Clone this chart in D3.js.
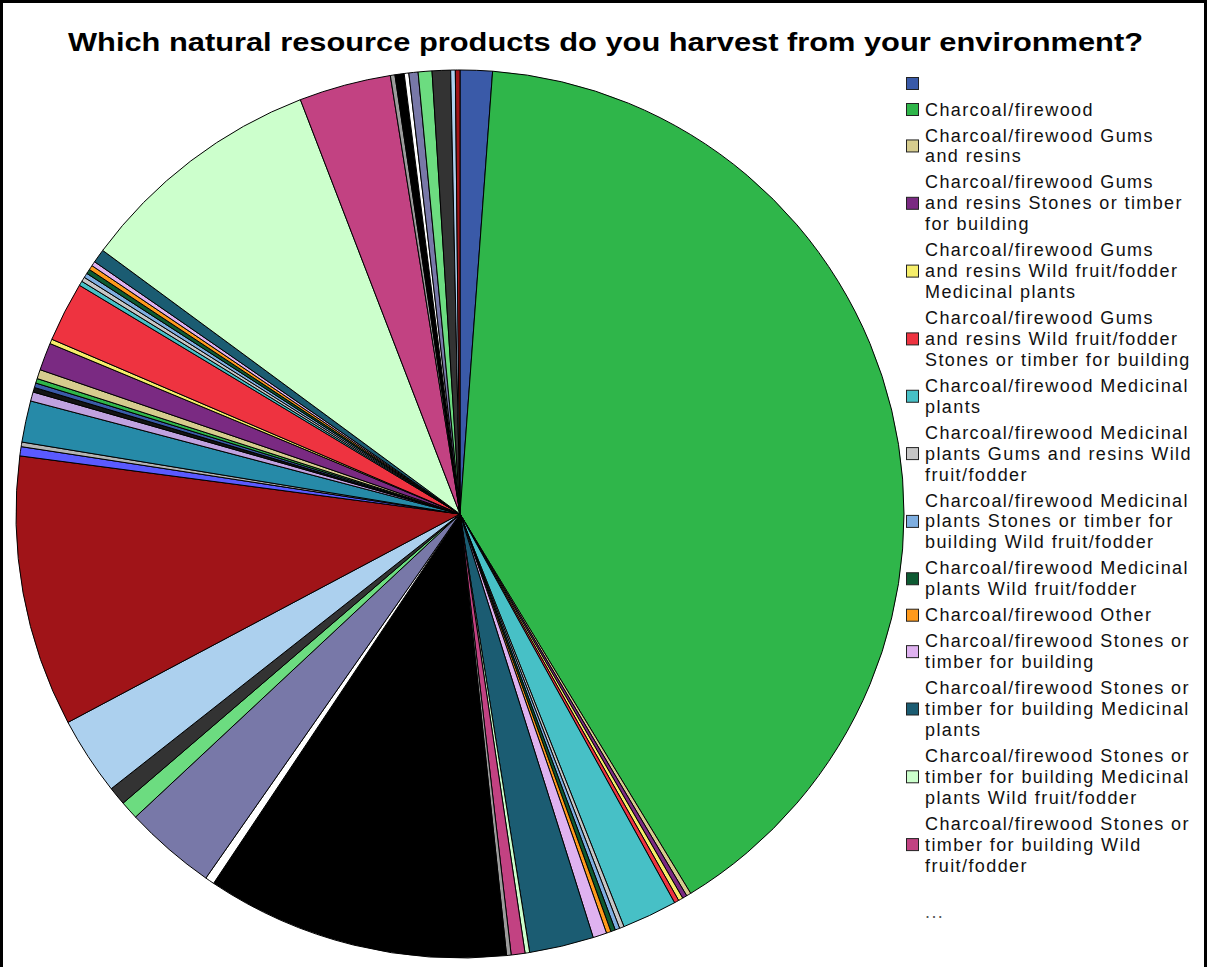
<!DOCTYPE html>
<html>
<head>
<meta charset="utf-8">
<script src="https://cdn.jsdelivr.net/npm/d3@7/dist/d3.min.js"></script>
<style>
  html, body { margin: 0; padding: 0; background: #fff; }
  svg { display: block; }
</style>
</head>
<body>
<svg id="chart" width="1209" height="967"></svg>
<script>
// Survey answers: combinations of harvested products and number of respondents
const categories = [
  "",
  "Charcoal/firewood",
  "Charcoal/firewood Gums and resins",
  "Charcoal/firewood Gums and resins Stones or timber for building",
  "Charcoal/firewood Gums and resins Wild fruit/fodder Medicinal plants",
  "Charcoal/firewood Gums and resins Wild fruit/fodder Stones or timber for building",
  "Charcoal/firewood Medicinal plants",
  "Charcoal/firewood Medicinal plants Gums and resins Wild fruit/fodder",
  "Charcoal/firewood Medicinal plants Stones or timber for building Wild fruit/fodder",
  "Charcoal/firewood Medicinal plants Wild fruit/fodder",
  "Charcoal/firewood Other",
  "Charcoal/firewood Stones or timber for building",
  "Charcoal/firewood Stones or timber for building Medicinal plants",
  "Charcoal/firewood Stones or timber for building Medicinal plants Wild fruit/fodder",
  "Charcoal/firewood Stones or timber for building Wild fruit/fodder",
  "Charcoal/firewood Wild fruit/fodder",
  "Charcoal/firewood Wild fruit/fodder Medicinal plants",
  "Charcoal/firewood Wild fruit/fodder Other",
  "Charcoal/firewood Wild fruit/fodder Stones or timber for building",
  "Gums and resins",
  "Gums and resins Medicinal plants",
  "Gums and resins Stones or timber for building",
  "Gums and resins Wild fruit/fodder",
  "Medicinal plants",
  "Medicinal plants Gums and resins",
  "Medicinal plants Other",
  "Medicinal plants Stones or timber for building",
  "Medicinal plants Stones or timber for building Wild fruit/fodder",
  "Medicinal plants Wild fruit/fodder",
  "Other",
  "Other Medicinal plants",
  "Stones or timber for building",
  "Stones or timber for building Gums and resins",
  "Stones or timber for building Medicinal plants",
  "Stones or timber for building Medicinal plants Wild fruit/fodder",
  "Stones or timber for building Other",
  "Stones or timber for building Wild fruit/fodder",
  "Stones or timber for building Wild fruit/fodder Gums and resins",
  "Stones or timber for building Wild fruit/fodder Medicinal plants",
  "Wild fruit/fodder",
  "Wild fruit/fodder Charcoal/firewood",
  "Wild fruit/fodder Gums and resins",
  "Wild fruit/fodder Medicinal plants",
  "Wild fruit/fodder Medicinal plants Gums and resins",
  "Wild fruit/fodder Medicinal plants Other",
  "Wild fruit/fodder Medicinal plants Stones or timber for building",
  "Wild fruit/fodder Other",
  "Wild fruit/fodder Stones or timber for building",
  "Wild fruit/fodder Stones or timber for building Gums and resins",
  "Wild fruit/fodder Stones or timber for building Medicinal plants",
  "Wild fruit/fodder Stones or timber for building Other",
  "Wild fruit/fodder Stones or timber for building Medicinal plants Gums and resins"
];

const counts = [
  7, 240, 1, 1, 1, 1, 12, 1, 1, 1,
  1, 3, 14, 1, 3, 1, 66, 2, 20, 4,
  4, 17, 59, 2, 1, 9, 2, 1, 1, 1,
  2, 6, 1, 13, 1, 1, 1, 1, 1, 1,
  3, 54, 20, 1, 2, 1, 2, 3, 4, 1,
  1
];

// Legend text for the first entries, broken into lines as laid out
const legendLines = [
  [""],
  ["Charcoal/firewood"],
  ["Charcoal/firewood Gums", "and resins"],
  ["Charcoal/firewood Gums", "and resins Stones or timber", "for building"],
  ["Charcoal/firewood Gums", "and resins Wild fruit/fodder", "Medicinal plants"],
  ["Charcoal/firewood Gums", "and resins Wild fruit/fodder", "Stones or timber for building"],
  ["Charcoal/firewood Medicinal", "plants"],
  ["Charcoal/firewood Medicinal", "plants Gums and resins Wild", "fruit/fodder"],
  ["Charcoal/firewood Medicinal", "plants Stones or timber for", "building Wild fruit/fodder"],
  ["Charcoal/firewood Medicinal", "plants Wild fruit/fodder"],
  ["Charcoal/firewood Other"],
  ["Charcoal/firewood Stones or", "timber for building"],
  ["Charcoal/firewood Stones or", "timber for building Medicinal", "plants"],
  ["Charcoal/firewood Stones or", "timber for building Medicinal", "plants Wild fruit/fodder"],
  ["Charcoal/firewood Stones or", "timber for building Wild", "fruit/fodder"]
];

// Series colour cycle
const palette = [
  "#3a5aa8", "#2fb64a", "#d6cc8e", "#7a2a82", "#f6ee6a", "#ee3340", "#47c0c6",
  "#c6c6c6", "#7eaee0", "#0d5a32", "#ff9a1c", "#dfb2f0", "#1b5c72", "#ccffcc",
  "#c24282", "#9c9c9c", "#000000", "#ffffff", "#7878a8", "#6cdc80", "#333333",
  "#acd0ee", "#a01418", "#5a5aff", "#b4b4b4", "#268aa8", "#c0a2e0", "#141414"
];

const title = "Which natural resource products do you harvest from your environment?";

const svg = d3.select("#chart");
const W = 1209, H = 967;

// frame
svg.append("rect")
  .attr("x", 1.5).attr("y", 1.5)
  .attr("width", W - 5).attr("height", H + 10)
  .attr("fill", "#fff")
  .attr("stroke", "#000")
  .attr("stroke-width", 3);

// title
svg.append("text")
  .attr("x", 68).attr("y", 51)
  .attr("textLength", 1075)
  .attr("lengthAdjust", "spacingAndGlyphs")
  .style("font-family", "'Liberation Sans', Arial, sans-serif")
  .style("font-weight", "bold")
  .style("font-size", "25px")
  .attr("fill", "#000")
  .text(title);

// pie
const cx = 460, cy = 514, radius = 444;
const color = d3.scaleOrdinal().domain(d3.range(categories.length)).range(palette);
const pie = d3.pie().sort(null).value(d => d)
  .startAngle(0).endAngle(2 * Math.PI);
const arc = d3.arc().innerRadius(0).outerRadius(radius);

const g = svg.append("g").attr("transform", `translate(${cx},${cy})`);
g.selectAll("path.slice")
  .data(pie(counts))
  .join("path")
  .attr("class", "slice")
  .attr("d", arc)
  .attr("fill", (d, i) => color(i))
  .attr("stroke", "#000")
  .attr("stroke-width", 1)
  .attr("stroke-linejoin", "round");

// legend
const legend = svg.append("g");
const fontCss = "'Liberation Sans', Arial, sans-serif";
const fontSize = 18, letterSp = 1.4;
const lineH = 20.9, gapH = 5.1;
const textX = 925, boxX = 906, boxS = 12;

let y = 83;
legendLines.forEach((lines, i) => {
  const mid = y + (lines.length - 1) * lineH / 2;
  legend.append("rect")
    .attr("x", boxX + 0.5).attr("y", mid - boxS / 2 + 0.5)
    .attr("width", boxS).attr("height", boxS)
    .attr("fill", color(i))
    .attr("stroke", "#222").attr("stroke-width", 1);
  const t = legend.append("text")
    .style("font-family", fontCss)
    .style("font-size", fontSize + "px")
    .style("letter-spacing", letterSp + "px")
    .attr("fill", "#111");
  lines.forEach((ln, j) => {
    t.append("tspan").attr("x", textX).attr("y", y + j * lineH + 6.5).text(ln);
  });
  y += lines.length * lineH + gapH;
});
legend.append("text")
  .attr("x", textX).attr("y", y + lineH + 6.5)
  .style("font-family", fontCss)
  .style("font-size", fontSize + "px")
  .style("letter-spacing", letterSp + "px")
  .attr("fill", "#555")
  .text("...");
</script>
</body>
</html>
